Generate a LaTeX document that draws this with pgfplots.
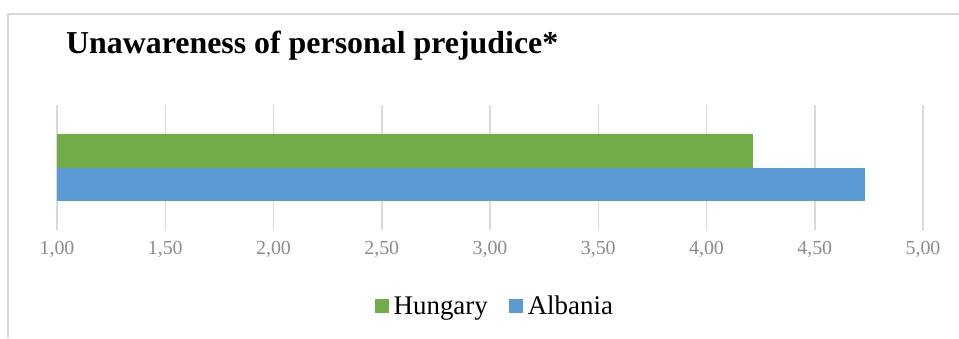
\documentclass[border=0pt]{standalone}
\usepackage{pgfplots}
\pgfplotsset{compat=1.18}
\usepackage{fontspec}
\setmainfont{Liberation Serif}
\definecolor{hgreen}{HTML}{70AD47}
\definecolor{ablue}{HTML}{5B9BD5}
\definecolor{gridc}{HTML}{D9D9D9}
\definecolor{tickc}{HTML}{8C8C8C}
\begin{document}
\begin{tikzpicture}[x=1bp,y=1bp]
\useasboundingbox (0,0) rectangle (959,338);
\draw[gridc, line width=1.5bp] (8,0) -- (8,324) -- (959,324);
\node[anchor=base west, inner sep=0pt, font=\fontsize{32}{36}\selectfont\bfseries] at (66,285) {Unawareness of personal prejudice*};
\begin{axis}[
  at={(57bp,108bp)}, anchor=south west,
  scale only axis, width=866bp, height=125bp,
  xbar, xmin=1, xmax=5, ymin=-1, ymax=1,
  axis line style={draw=none},
  ytick=\empty,
  xtick={1,1.5,2,2.5,3,3.5,4,4.5,5},
  xticklabels={{1,00},{1,50},{2,00},{2,50},{3,00},{3,50},{4,00},{4,50},{5,00}},
  xticklabel style={font=\fontsize{20}{24}\selectfont, text=tickc, yshift=-8bp},
  major tick length=0pt,
  xmajorgrids, grid style={gridc, line width=1.5bp},
  bar width=0.53,
  legend columns=2,
  legend style={at={(0.505,-0.61)}, anchor=center, draw=none, fill=none,
    font=\fontsize{27}{30}\selectfont, column sep=0pt, inner sep=0pt,
    nodes={inner sep=1bp},
    /tikz/every odd column/.append style={column sep=4bp},
    /tikz/every even column/.append style={column sep=20bp}},
  legend image code/.code={\fill[#1] (0bp,-7bp) rectangle (14bp,7bp);},
]
\addplot[fill=hgreen, draw=none, bar shift=0.265] coordinates {(4.213,0)};
\addlegendentry{Hungary}
\addplot[fill=ablue, draw=none, bar shift=-0.265] coordinates {(4.73,0)};
\addlegendentry{Albania}
\end{axis}
\end{tikzpicture}
\end{document}
